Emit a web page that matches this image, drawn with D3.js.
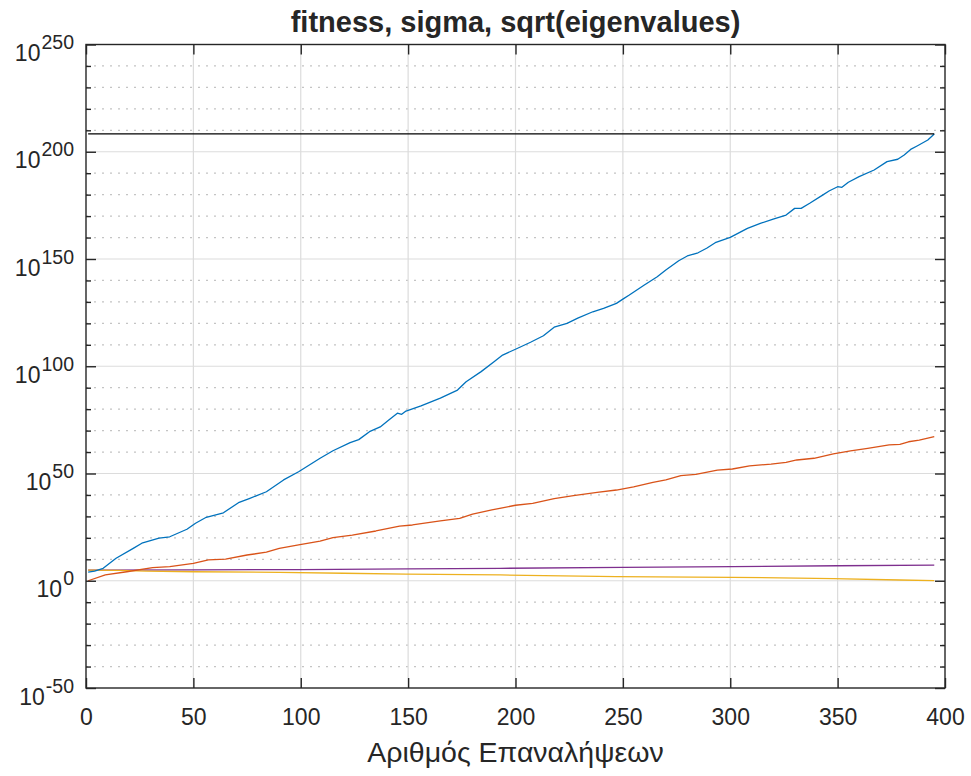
<!DOCTYPE html>
<html>
<head>
<meta charset="utf-8">
<script src="https://cdn.jsdelivr.net/npm/d3@7"></script>
<style>
  body { margin: 0; background: #fff; }
  text { font-family: "Liberation Sans", Arial, Helvetica, sans-serif; fill: #262626; }
</style>
</head>
<body>
<svg id="chart" width="971" height="776"></svg>
<script>
// Iteration numbers and log10 of each plotted quantity.
const fitnessIter = [1, 4, 8, 14, 22, 26, 34, 39, 47, 51, 56, 64, 71, 76, 84, 92, 99, 109, 115, 123, 127, 132, 137, 141, 145, 147, 149, 156, 165, 173, 177, 184, 190, 194, 201, 207, 213, 218, 224, 229, 236, 241, 247, 250, 253, 260, 266, 270, 276, 280, 285, 289, 293, 300, 308, 314, 320, 326, 330, 333, 337, 343, 346, 350, 352, 355, 360, 367, 373, 378, 381, 384, 387, 392, 395];
const fitnessLog10 = [4.0, 4.5, 5.8, 10.5, 15.1, 17.5, 19.9, 20.5, 24.0, 26.8, 29.6, 31.7, 36.4, 38.3, 41.5, 47.0, 50.8, 57.1, 60.6, 64.4, 65.8, 69.5, 71.7, 74.9, 78.1, 77.6, 79.1, 81.5, 85.1, 88.9, 92.8, 97.5, 102.1, 105.2, 108.4, 111.2, 114.2, 118.2, 120.0, 122.4, 125.4, 127.0, 129.3, 131.3, 133.2, 137.9, 141.7, 144.9, 149.2, 151.4, 152.9, 155.0, 157.6, 160.1, 164.3, 166.6, 168.6, 170.5, 173.6, 173.6, 176.0, 179.8, 181.7, 183.7, 183.4, 185.8, 188.4, 191.5, 195.4, 196.5, 198.5, 201.1, 202.7, 205.5, 208.3];

const sigmaIter = [1, 9, 19, 31, 39, 50, 57, 65, 75, 84, 90, 99, 109, 115, 124, 135, 146, 152, 165, 174, 180, 189, 200, 208, 218, 227, 238, 247, 255, 264, 270, 277, 284, 294, 301, 309, 319, 326, 331, 339, 348, 356, 364, 374, 379, 383, 388, 395];
const sigmaLog10 = [0.0, 2.7, 4.2, 6.1, 6.6, 8.1, 9.7, 10.1, 12.0, 13.3, 15.1, 16.7, 18.5, 20.1, 21.3, 23.2, 25.5, 26.0, 27.9, 29.1, 31.1, 33.0, 35.2, 36.1, 38.3, 39.7, 41.2, 42.3, 43.8, 45.9, 47.0, 49.0, 49.6, 51.6, 52.1, 53.6, 54.4, 55.2, 56.3, 57.1, 59.1, 60.5, 61.7, 63.3, 63.6, 64.8, 65.6, 67.2];

const eigMinIter = [1, 15, 28, 50, 90, 120, 149, 193, 247, 301, 348, 379, 395];
const eigMinLog10 = [5.0, 4.8, 4.5, 4.2, 3.9, 3.5, 3.1, 2.7, 1.9, 1.6, 1.0, 0.35, 0.1];

const eigMaxIter = [1, 50, 100, 150, 193, 250, 301, 350, 395];
const eigMaxLog10 = [5.0, 5.1, 5.2, 5.5, 5.8, 6.2, 6.6, 7.0, 7.3];

// Final best fitness, drawn as a horizontal reference line.
const finalIter = [1, 395];
const finalLog10 = [208.3, 208.3];

const xTicks = [0, 50, 100, 150, 200, 250, 300, 350, 400];
const yTickExps = [-50, 0, 50, 100, 150, 200, 250];

const titleText = "fitness, sigma, sqrt(eigenvalues)";
const xLabelText = "Αριθμός Επαναλήψεων";

const colors = {
  fitness: "#0072BD",
  sigma: "#D95319",
  eigMin: "#EDB120",
  eigMax: "#7E2F8E",
  final: "#000000"
};

const L = 86, R = 945, T = 44.5, B = 688;
const axisColor = "#262626";

const svg = d3.select("#chart");

const x = d3.scaleLinear().domain([0, 400]).range([L, R]);
const y = d3.scaleLog().domain([1e-50, 1e250]).range([B, T]);

const toPoints = (it, ex) => it.map((v, i) => ({ x: v, y: Math.pow(10, ex[i]) }));

const minorExps = d3.range(-50, 251, 10).filter(e => e % 50 !== 0);

// grid
const grid = svg.append("g");
grid.selectAll(".minor").data(minorExps).join("line")
  .attr("x1", L).attr("x2", R)
  .attr("y1", d => y(Math.pow(10, d))).attr("y2", d => y(Math.pow(10, d)))
  .attr("stroke", "#c4c4c4").attr("stroke-width", 1.2)
  .attr("stroke-dasharray", "2,6").attr("stroke-dashoffset", -8);
grid.selectAll(".ymaj").data(yTickExps.slice(1, -1)).join("line")
  .attr("x1", L).attr("x2", R)
  .attr("y1", d => y(Math.pow(10, d))).attr("y2", d => y(Math.pow(10, d)))
  .attr("stroke", "#dcdcdc").attr("stroke-width", 1.2);
grid.selectAll(".xmaj").data(xTicks.slice(1, -1)).join("line")
  .attr("y1", T).attr("y2", B)
  .attr("x1", d => x(d)).attr("x2", d => x(d))
  .attr("stroke", "#dcdcdc").attr("stroke-width", 1.2);

// series
const line = d3.line().x(d => x(d.x)).y(d => y(d.y));
const series = [
  [eigMaxIter, eigMaxLog10, colors.eigMax],
  [eigMinIter, eigMinLog10, colors.eigMin],
  [sigmaIter, sigmaLog10, colors.sigma],
  [fitnessIter, fitnessLog10, colors.fitness],
  [finalIter, finalLog10, colors.final]
];
const plot = svg.append("g");
series.forEach(([it, ex, c]) => {
  plot.append("path")
    .datum(toPoints(it, ex))
    .attr("d", line)
    .attr("fill", "none")
    .attr("stroke", c)
    .attr("stroke-width", 1.3)
    .attr("stroke-linejoin", "round");
});

// axes
function styleAxis(g) {
  g.select(".domain").remove();
  g.selectAll(".tick line").attr("stroke", axisColor).attr("stroke-width", 1.4);
}

const yMajorVals = yTickExps.map(e => Math.pow(10, e));
const yMinorVals = minorExps.map(e => Math.pow(10, e));

const yLeft = svg.append("g").attr("transform", `translate(${L},0)`)
  .call(d3.axisLeft(y).tickValues(yMajorVals).tickSizeInner(-10).tickSizeOuter(0).tickPadding(12))
  .call(styleAxis);
yLeft.selectAll(".tick text").each(function (d, i) {
  const t = d3.select(this);
  t.text(null).attr("dy", 16).attr("font-size", 23).attr("fill", axisColor);
  t.append("tspan").text("10");
  t.append("tspan").attr("dx", 1).attr("dy", -12).attr("font-size", 19.5).text(String(yTickExps[i]));
});

svg.append("g").attr("transform", `translate(${L},0)`)
  .call(d3.axisLeft(y).tickValues(yMinorVals).tickSizeInner(-5).tickSizeOuter(0).tickFormat(""))
  .call(styleAxis);
svg.append("g").attr("transform", `translate(${R},0)`)
  .call(d3.axisRight(y).tickValues(yMajorVals).tickSizeInner(-10).tickSizeOuter(0).tickFormat(""))
  .call(styleAxis);
svg.append("g").attr("transform", `translate(${R},0)`)
  .call(d3.axisRight(y).tickValues(yMinorVals).tickSizeInner(-5).tickSizeOuter(0).tickFormat(""))
  .call(styleAxis);

const xBottom = svg.append("g").attr("transform", `translate(0,${B})`)
  .call(d3.axisBottom(x).tickValues(xTicks).tickSizeInner(-10).tickSizeOuter(0).tickPadding(37).tickFormat(d3.format("d")))
  .call(styleAxis);
xBottom.selectAll(".tick text").attr("dy", 0).attr("font-size", 23).attr("fill", axisColor);

svg.append("g").attr("transform", `translate(0,${T})`)
  .call(d3.axisTop(x).tickValues(xTicks).tickSizeInner(-10).tickSizeOuter(0).tickFormat(""))
  .call(styleAxis);

// box
svg.append("rect")
  .attr("x", L).attr("y", T).attr("width", R - L).attr("height", B - T)
  .attr("fill", "none").attr("stroke", axisColor).attr("stroke-width", 1.4);

// title and label
svg.append("text")
  .attr("x", (L + R) / 2).attr("y", 32)
  .attr("text-anchor", "middle")
  .attr("font-size", 29).attr("font-weight", "bold").attr("fill", "#000")
  .text(titleText);

svg.append("text")
  .attr("x", (L + R) / 2).attr("y", 762)
  .attr("text-anchor", "middle")
  .attr("font-size", 28.5).attr("fill", axisColor)
  .text(xLabelText);
</script>
</body>
</html>
